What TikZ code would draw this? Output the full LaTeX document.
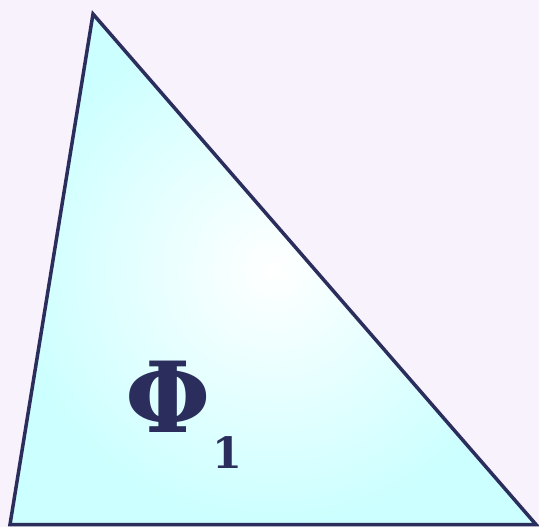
\documentclass[tikz,border=0pt]{standalone}
\usepackage{fontspec}
\setmainfont{DejaVu Serif}
\definecolor{bgc}{HTML}{F8F2FC}
\definecolor{edge}{HTML}{2B2D5C}
\definecolor{cyanfill}{HTML}{CCFFFF}
\tikzset{tri/.style={draw=edge,line width=3.5pt,line join=miter,inner color=white,outer color=cyanfill}}
\begin{document}
\begin{tikzpicture}[x=1pt,y=-1pt]
\fill[bgc] (0,0) rectangle (539,527);
\useasboundingbox (0,0) rectangle (539,527);
\coordinate (A) at (93,14);
\coordinate (B) at (10,524.5);
\coordinate (C) at (536,524.5);
\path[tri] (A) -- (B) -- (C) -- cycle;
\node[text=edge,font=\fontsize{98}{98}\selectfont\bfseries,inner sep=0pt,anchor=base] (phi) at (168,432) {Φ};
\node[text=edge,font=\fontsize{43}{43}\selectfont\bfseries,inner sep=0pt,anchor=base] (one) at (227,468) {1};
\end{tikzpicture}
\end{document}
